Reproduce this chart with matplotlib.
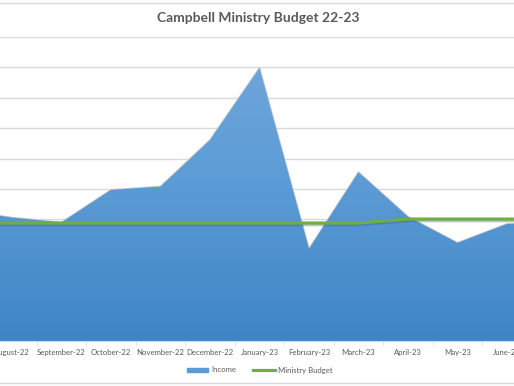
import numpy as np
import matplotlib
matplotlib.use("Agg")
import matplotlib.pyplot as plt
from matplotlib.colors import LinearSegmentedColormap
from matplotlib.lines import Line2D
from matplotlib.transforms import ScaledTranslation

plt.rcParams['font.family'] = ['Lato', 'DejaVu Sans']

# data (y labels are cropped in the reference, values read in $)
months = ["July-22", "August-22", "September-22", "October-22", "November-22",
          "December-22", "January-23", "February-23", "March-23", "April-23",
          "May-23", "June-23", "July-23"]
income = [4300, 4060, 3900, 4970, 5080, 6610, 8980, 3030, 5550, 4090, 3230, 3850, 3900]
budget = [3880, 3880, 3880, 3880, 3880, 3880, 3880, 3880, 3880, 4010, 4010, 4010, 4010]

x = np.arange(len(months))
grey = "#595959"

fig = plt.figure(figsize=(5.14, 3.86), dpi=100)
ax = fig.add_axes([0, 45 / 386, 1, 304 / 386])

# area with vertical gradient
poly = ax.fill_between(x, income, 0, color="none", zorder=2)
cmap = LinearSegmentedColormap.from_list("blu", ["#3f85c6", "#5b9bd5", "#72a8dd"])
grad = np.linspace(0, 1, 256).reshape(-1, 1)
img = ax.imshow(grad, cmap=cmap, origin="lower", aspect="auto",
                extent=[x[0], x[-1], 0, 10000], zorder=2)
img.set_clip_path(poly.get_paths()[0], transform=ax.transData)
ax.fill_between(x, income, 0, facecolor="none", edgecolor="#c8c8c8",
                linewidth=1.2, zorder=1.9)

# budget line with a soft shadow
shadow = ax.transData + ScaledTranslation(0, -1.5 / 100, fig.dpi_scale_trans)
ax.plot(x, budget, color="#3a5a80", lw=2.5, alpha=0.35, zorder=3, transform=shadow)
ax.plot(x, budget, color="#70ad47", lw=2.3, zorder=4)

ax.set_yticks(np.arange(0, 10001, 1000))
ax.set_yticklabels([])
ax.tick_params(axis="y", length=0)
ax.grid(axis="y", color="#d9d9d9", lw=1, zorder=0)
ax.set_axisbelow(True)

ax.set_xticks(x)
ax.set_xticklabels(months, fontsize=5.6, color=grey)
ax.set_xticks(x[:-1] + 0.5, minor=True)
ax.tick_params(axis="x", which="major", length=0, pad=6)
ax.tick_params(axis="x", which="minor", length=3, color="#d9d9d9")
for s in ["top", "left", "right"]:
    ax.spines[s].set_visible(False)
ax.spines["bottom"].set_color("#d9d9d9")

# the reference is cropped: August-22 sits 12 px from the left edge
ax.set_xlim(1 - 12 / 49.5, 1 + 502 / 49.5)
ax.set_ylim(0, 10000)

fig.text(0.502, 1 - 18 / 386, "Campbell Ministry Budget 22-23", ha="center",
         va="center", fontsize=10, fontweight="bold", color=grey)

leg = fig.legend(
    [plt.Rectangle((0, 0), 1, 1, color="#5b9bd5"),
     Line2D([0], [0], color="#70ad47", lw=2.3)],
    ["Income", "Ministry Budget"], loc="center", bbox_to_anchor=(0.505, 1 - 370 / 386),
    ncol=2, frameon=False, fontsize=5.6, handlelength=2.8, handleheight=0.5,
    handletextpad=0.35, columnspacing=2.2, labelcolor=grey)

# chart border lines
fig.add_artist(Line2D([0, 1], [1 - 3 / 386, 1 - 3 / 386], color="#d9d9d9", lw=1))
fig.add_artist(Line2D([0, 1], [1 - 383 / 386, 1 - 383 / 386], color="#d9d9d9", lw=1))

fig.savefig("out.png", dpi=100)
